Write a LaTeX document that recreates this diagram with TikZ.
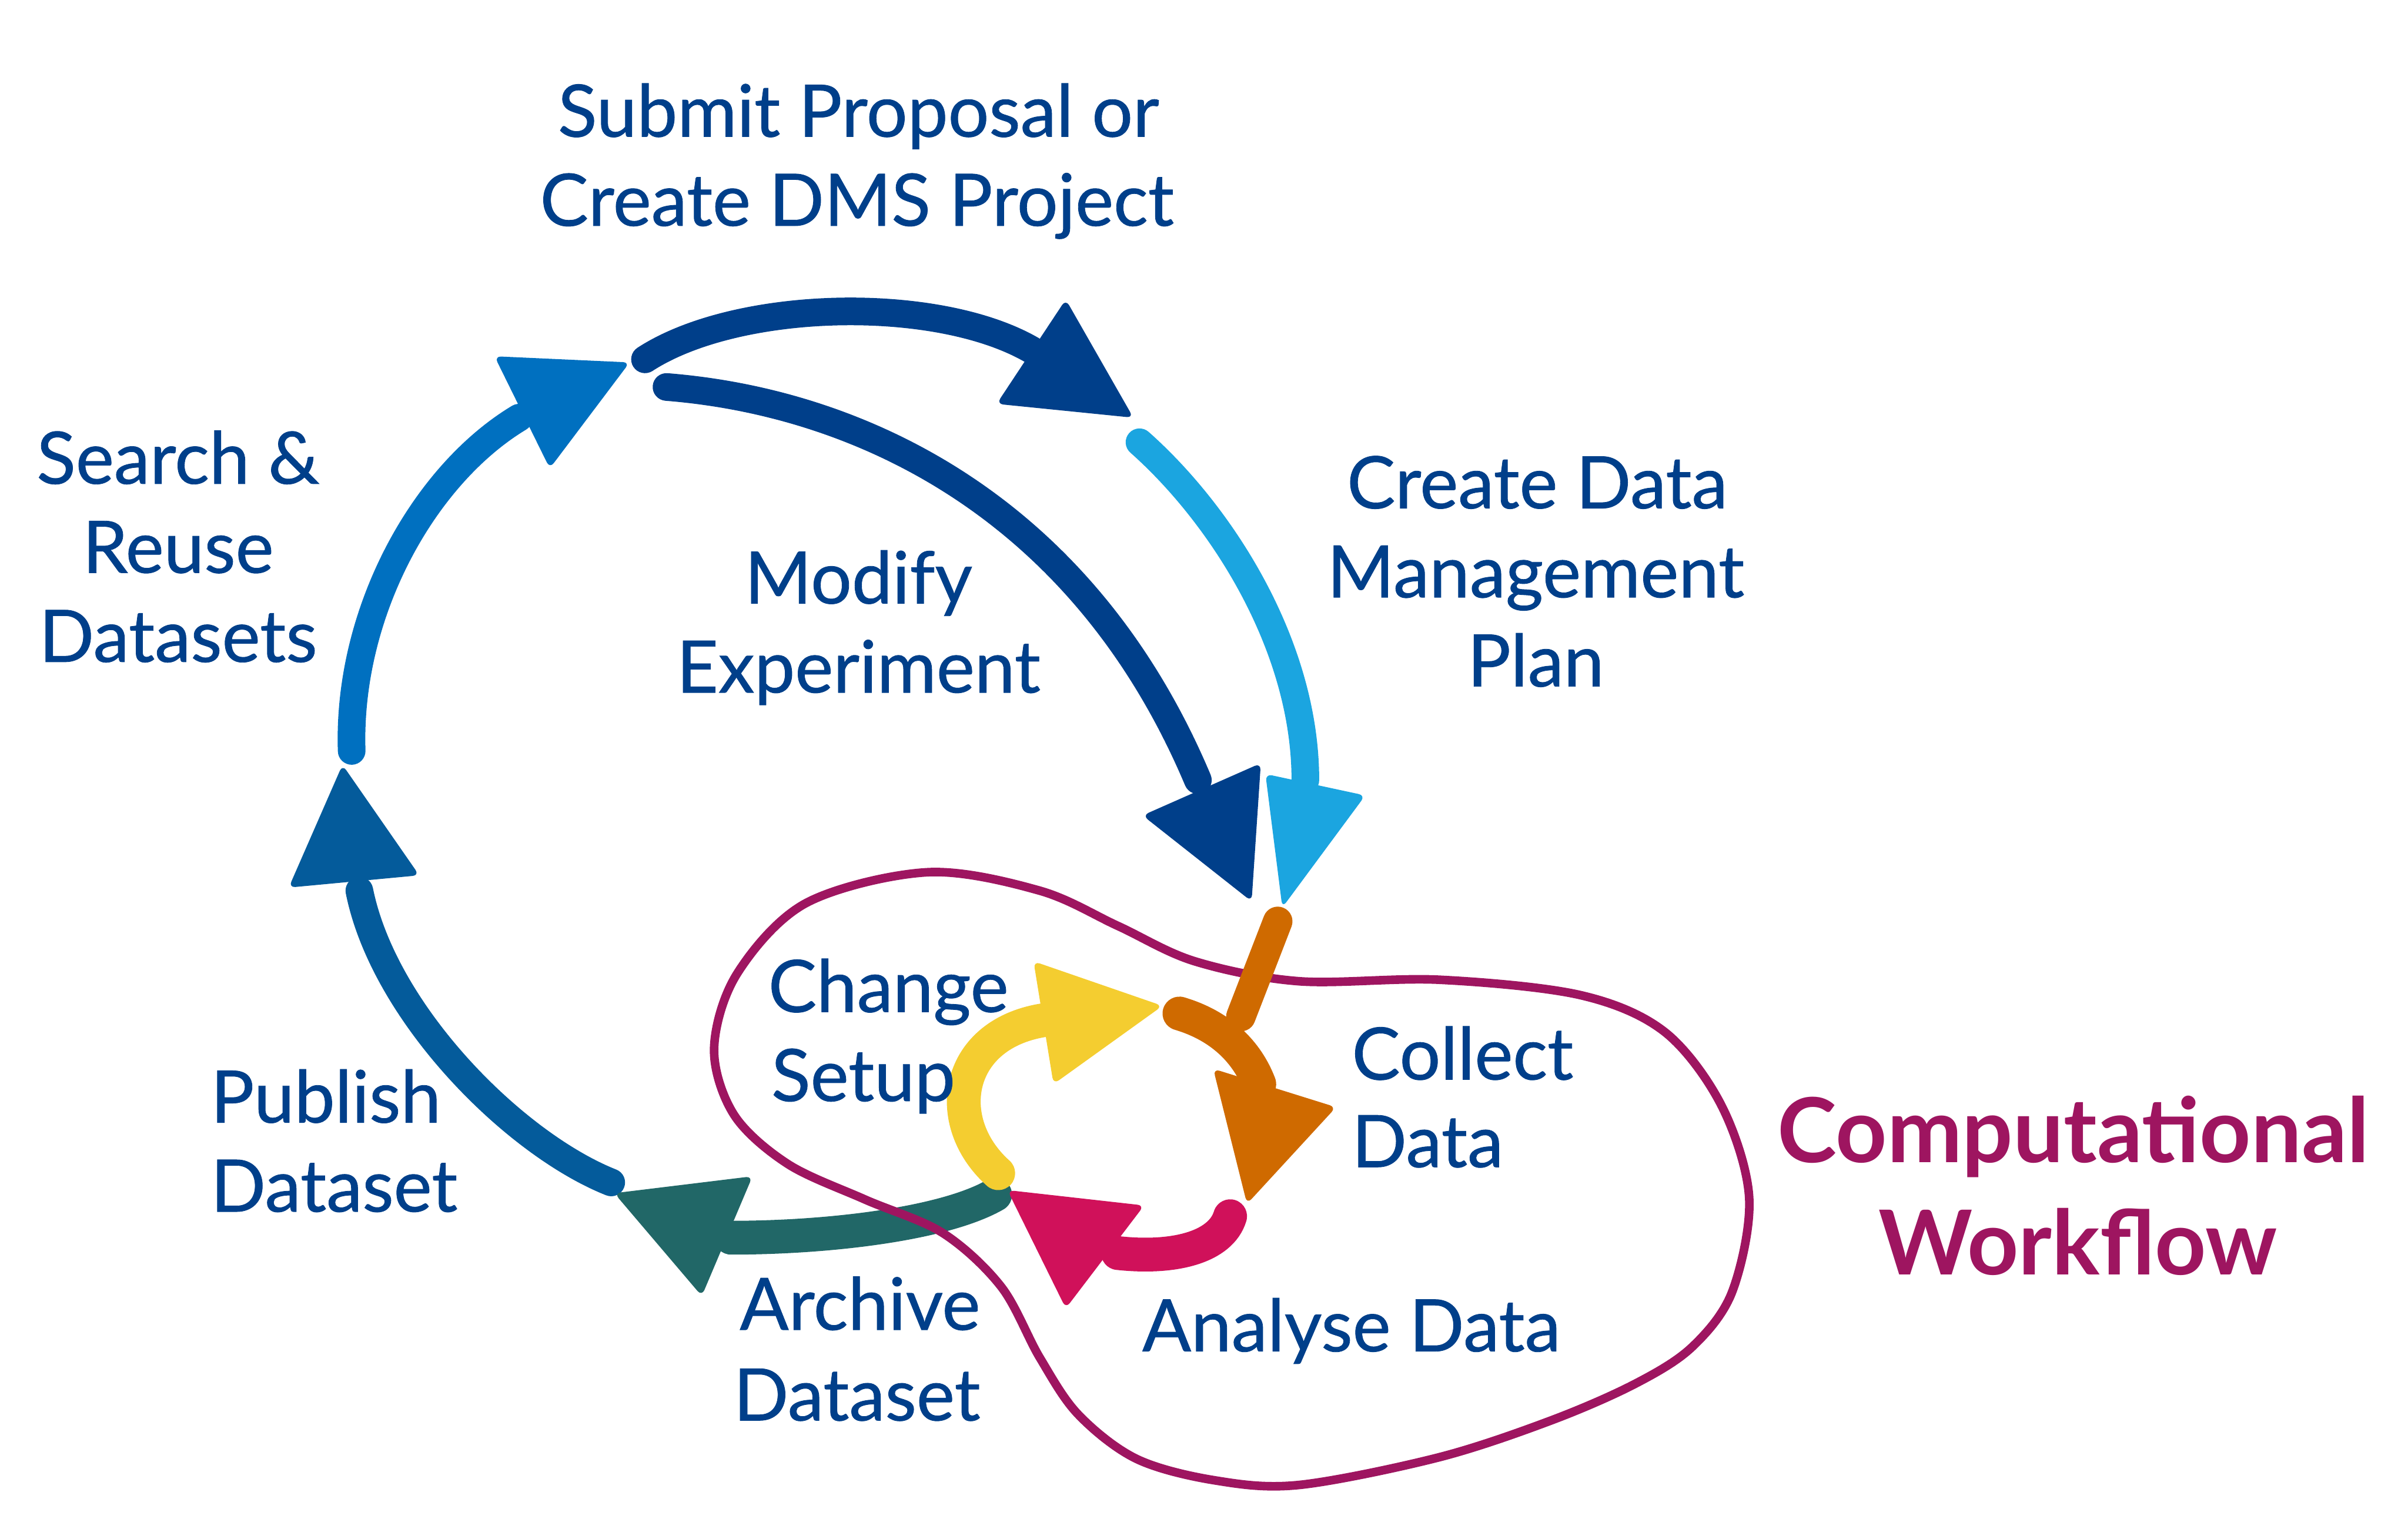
\documentclass[tikz,border=0pt]{standalone}
\usepackage{fontspec}
\setmainfont{Lato}
\newfontfamily\lblfont{Lato}[FakeBold=0.7]
\definecolor{txtblue}{HTML}{003F8A}
\definecolor{cdark}{HTML}{003F8A}
\definecolor{cmed}{HTML}{0070C0}
\definecolor{clight}{HTML}{1BA5E0}
\definecolor{cpub}{HTML}{045B9B}
\definecolor{cteal}{HTML}{216767}
\definecolor{corange}{HTML}{CF6A00}
\definecolor{cyellow}{HTML}{F4CD30}
\definecolor{ccrimson}{HTML}{D0115A}
\definecolor{cmag}{HTML}{9E1560}
\tikzset{
  lbl/.style={text=txtblue, font=\lblfont\fontsize{33.5}{41}\selectfont, inner sep=0pt, anchor=base},
  comp/.style={text=cmag, font=\bfseries\fontsize{41.5}{52}\selectfont, inner sep=0pt, anchor=base},
  shaft/.style={line width=0.45cm, line cap=round},
  ishaft/.style={line width=0.55cm, line cap=round},
  head/.style={rounded corners=3pt},
  wfloop/.style={draw=cmag, line width=0.14cm, line join=round},
}
\begin{document}
\begin{tikzpicture}[x=0.025cm,y=-0.025cm]
\useasboundingbox (0,0) rectangle (1568,989);

% ---- shaft end points
\coordinate (S1) at (229,489); \coordinate (S2) at (338,272);
\coordinate (T1) at (420,234); \coordinate (T2) at (672,228);
\coordinate (L1) at (742,288); \coordinate (L2) at (850,508);
\coordinate (M1) at (434,252); \coordinate (M2) at (780,508);
\coordinate (O1) at (832,600); \coordinate (O2) at (808,662);
\coordinate (O3) at (768,660); \coordinate (O4) at (820,706);
\coordinate (C1) at (801,792); \coordinate (C2) at (728,816);
\coordinate (Y1) at (650,764); \coordinate (Y2) at (682,664);
\coordinate (A1) at (648,778); \coordinate (A2) at (476,806);
\coordinate (P1) at (398,770); \coordinate (P2) at (234,580);

% ---- big cycle
\draw[shaft, cmed] (S1) .. controls (226,400) and (275,310) .. (S2);
\fill[head, cmed] (322,232) -- (410,236) -- (358,305) -- cycle;

\draw[shaft, cdark] (T1) .. controls (480,195) and (610,192) .. (T2);
\fill[head, cdark] (694,195) -- (738,272) -- (649,263) -- cycle;

\draw[shaft, cdark] (M1) .. controls (560,262) and (705,330) .. (M2);
\fill[head, cdark] (744,531) -- (821,497) -- (815,587) -- cycle;

\draw[shaft, clight] (L1) .. controls (795,335) and (850,420) .. (L2);
\fill[head, clight] (824,504) -- (889,518) -- (835,591) -- cycle;

\draw[shaft, cpub] (P1) .. controls (335,745) and (250,660) .. (P2);
\fill[head, cpub] (223,498) -- (273,570) -- (188,578) -- cycle;

\draw[ishaft, cteal] (A1) .. controls (615,797) and (540,806) .. (A2);
\fill[head, cteal] (400,777) -- (490,766) -- (457,844) -- cycle;

% ---- workflow loop
\draw[wfloop] plot[smooth cycle, tension=0.55] coordinates {
 (604,568) (677,580) (728,603) (778,626) (846,639) (937,638) (1029,648)
 (1084,672) (1121,720) (1139,780) (1128,841) (1102,877) (1065,901)
 (1010,925) (937,949) (846,967) (791,964) (740,950) (702,921) (677,884)
 (652,838) (614,803) (563,781) (513,758) (478,726) (465,683) (480,634)
 (525,588)};

% ---- inner cycle
\draw[ishaft, cyellow] (Y1) .. controls (612,730) and (622,672) .. (Y2);
\fill[head, cyellow] (673,626) -- (757,655) -- (686,706) -- cycle;

\draw[line width=0.48cm, line cap=round, corange] (O1) -- (O2);
\draw[ishaft, corange] (O3) .. controls (795,668) and (812,685) .. (O4);
\fill[head, corange] (790,696) -- (870,721) -- (812,784) -- cycle;

\draw[ishaft, ccrimson] (C1) .. controls (795,812) and (765,820) .. (C2);
\fill[head, ccrimson] (656,775) -- (745,785) -- (694,852) -- cycle;

% ---- labels
\node[lbl] (sub1) at (559,89) {Submit Proposal or};
\node[lbl] (sub2) at (558,147) {Create DMS Project};
\node[lbl] (sea1) at (116,315) {Search \&};
\node[lbl] (sea2) at (116,373) {Reuse};
\node[lbl] (sea3) at (116,431) {Datasets};
\node[lbl] (mod1) at (559,393) {Modify};
\node[lbl] (mod2) at (559,451) {Experiment};
\node[lbl] (dmp1) at (1001,331) {Create Data};
\node[lbl] (dmp2) at (1000,389) {Management};
\node[lbl] (dmp3) at (1000,447) {Plan};
\node[lbl, anchor=base west] (chg1) at (500,659) {Change};
\node[lbl, anchor=base west] (chg2) at (502,717) {Setup};
\node[lbl, anchor=base west] (col1) at (880,703) {Collect};
\node[lbl, anchor=base west] (col2) at (880,760) {Data};
\node[lbl, anchor=base west] (pub1) at (137,731) {Publish};
\node[lbl, anchor=base west] (pub2) at (137,789) {Dataset};
\node[lbl] (arc1) at (560,866) {Archive};
\node[lbl] (arc2) at (558,925) {Dataset};
\node[lbl] (ana) at (880,880) {Analyse Data};
\node[comp] (cw1) at (1350,757) {Computational};
\node[comp] (cw2) at (1353,830) {Workflow};
\end{tikzpicture}
\end{document}
